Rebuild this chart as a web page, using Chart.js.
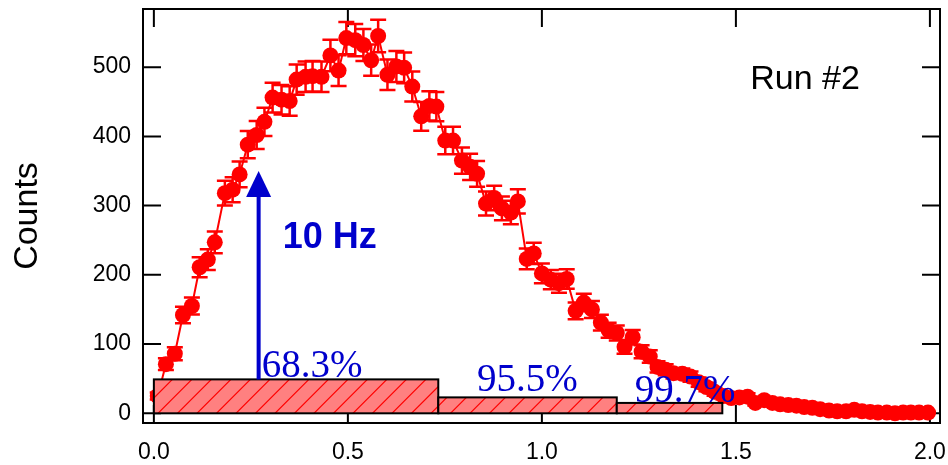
<!DOCTYPE html>
<html>
<head>
<meta charset="utf-8">
<script src="https://cdn.jsdelivr.net/npm/chart.js@4.4.1/dist/chart.umd.min.js"></script>
<style>
  html, body { margin: 0; padding: 0; background: #fff; }
  #wrap { width: 948px; height: 465px; position: relative; }
</style>
</head>
<body>
<div id="wrap"><canvas id="c" width="948" height="465"></canvas></div>
<script>
// Histogram bins (bin position) and measured counts
const xValues = [
  0.010, 0.031, 0.054, 0.075, 0.098, 0.118, 0.139, 0.157, 0.183, 0.203,
  0.221, 0.242, 0.265, 0.285, 0.306, 0.329, 0.350, 0.368, 0.391, 0.409,
  0.432, 0.455, 0.476, 0.496, 0.519, 0.540, 0.560, 0.578, 0.602, 0.625,
  0.645, 0.666, 0.689, 0.710, 0.728, 0.751, 0.771, 0.794, 0.815, 0.833,
  0.856, 0.877, 0.897, 0.920, 0.938, 0.961, 0.979, 1.000, 1.023, 1.044,
  1.064, 1.087, 1.108, 1.129, 1.152, 1.172, 1.193, 1.213, 1.234, 1.257,
  1.278, 1.298, 1.319, 1.339, 1.362, 1.383, 1.404, 1.424, 1.445, 1.468,
  1.488, 1.509, 1.530, 1.550, 1.573, 1.594, 1.614, 1.635, 1.656, 1.676,
  1.697, 1.717, 1.740, 1.761, 1.784, 1.805, 1.825, 1.846, 1.866, 1.889,
  1.910, 1.931, 1.951, 1.972, 1.995
];
const counts = [
  25, 71, 86, 142, 155, 211, 222, 247, 318, 323,
  345, 388, 402, 421, 456, 453, 451, 482, 486, 487,
  486, 517, 495, 542, 539, 532, 510, 545, 489, 501,
  499, 472, 429, 444, 443, 394, 394, 365, 356, 346,
  303, 311, 296, 290, 306, 223, 231, 202, 193, 188,
  194, 148, 160, 150, 131, 120, 116, 96, 110, 89,
  82, 67, 63, 58, 57, 53, 45, 38, 31, 25,
  22, 23, 24, 15, 19, 15, 13, 12, 11, 9,
  8, 6, 4, 3, 3, 5, 3, 2, 1, 1,
  0, 1, 1, 1, 1
];

const xTicks = [0.0, 0.5, 1.0, 1.5, 2.0];
const yTicks = [0, 100, 200, 300, 400, 500];

// Confidence bands drawn along the baseline
const bandStart  = [0.000, 0.733, 1.193];
const bandEnd    = [0.733, 1.193, 1.465];
const bandHeight = [49, 23, 15];
const bandLabels = ['68.3%', '95.5%', '99.7%'];

const runLabel  = 'Run #2';
const rateLabel = '10 Hz';
const yTitle    = 'Counts';
const arrowX    = 0.27;
const arrowTip  = 350;

const SANS  = '"Liberation Sans", Arial, Helvetica, sans-serif';
const SERIF = '"Liberation Serif", "Times New Roman", Times, serif';
const RED   = '#ff0000';
const BLUE  = '#0000cc';

// Boxed frame with inward ticks on all four sides
const framePlugin = {
  id: 'frame',
  beforeDatasetsDraw(chart) {
    const { ctx, chartArea: a, scales: { x, y } } = chart;
    const T = 18;
    ctx.save();
    ctx.strokeStyle = '#000';
    ctx.lineWidth = 2;
    ctx.beginPath();
    xTicks.forEach(v => {
      const px = x.getPixelForValue(v);
      ctx.moveTo(px, a.bottom); ctx.lineTo(px, a.bottom - T);
      ctx.moveTo(px, a.top);    ctx.lineTo(px, a.top + T);
    });
    yTicks.forEach(v => {
      const py = y.getPixelForValue(v);
      ctx.moveTo(a.left, py);  ctx.lineTo(a.left + T, py);
      ctx.moveTo(a.right, py); ctx.lineTo(a.right - T, py);
    });
    ctx.stroke();
    ctx.strokeRect(a.left, a.top, a.right - a.left, a.bottom - a.top);

    // Axis title
    ctx.fillStyle = '#000';
    ctx.font = '34px ' + SANS;
    ctx.textAlign = 'center';
    ctx.textBaseline = 'middle';
    ctx.translate(28, (a.top + a.bottom) / 2);
    ctx.rotate(-Math.PI / 2);
    ctx.fillText(yTitle, 0, 0);
    ctx.restore();
  }
};

// Poisson (sqrt N) error bars with caps
const errorBarPlugin = {
  id: 'errorBars',
  beforeDatasetsDraw(chart) {
    const { ctx, scales: { x, y } } = chart;
    ctx.save();
    ctx.strokeStyle = RED;
    ctx.lineWidth = 2.5;
    ctx.beginPath();
    xValues.forEach((xv, i) => {
      const err = Math.sqrt(counts[i]);
      const px = x.getPixelForValue(xv);
      const top = y.getPixelForValue(counts[i] + err);
      const bot = y.getPixelForValue(counts[i] - err);
      ctx.moveTo(px, top); ctx.lineTo(px, bot);
      ctx.moveTo(px - 8, top); ctx.lineTo(px + 8, top);
      ctx.moveTo(px - 8, bot); ctx.lineTo(px + 8, bot);
    });
    ctx.stroke();
    ctx.restore();
  }
};

// Hatched bands, arrow and text annotations
const annotationPlugin = {
  id: 'annotations',
  afterDatasetsDraw(chart) {
    const { ctx, scales: { x, y } } = chart;
    const y0 = y.getPixelForValue(0);
    ctx.save();
    bandStart.forEach((s, i) => {
      const l = x.getPixelForValue(s);
      const r = x.getPixelForValue(bandEnd[i]);
      const t = y.getPixelForValue(bandHeight[i]);
      const h = y0 - t;
      ctx.fillStyle = '#ff8080';
      ctx.fillRect(l, t, r - l, h);
      ctx.save();
      ctx.beginPath();
      ctx.rect(l, t, r - l, h);
      ctx.clip();
      ctx.strokeStyle = RED;
      ctx.lineWidth = 1.2;
      ctx.beginPath();
      const sp = 19.5;
      for (let k = Math.floor((l - h) / sp) * sp; k < r + sp; k += sp) {
        ctx.moveTo(k, y0 + 2);
        ctx.lineTo(k + h + 2, t);
      }
      ctx.stroke();
      ctx.restore();
      ctx.strokeStyle = '#000';
      ctx.lineWidth = 2;
      ctx.strokeRect(l, t, r - l, h);
    });

    // Arrow marking the rate
    const ax = x.getPixelForValue(arrowX);
    const aBase = y.getPixelForValue(bandHeight[0]);
    const aTip = y.getPixelForValue(arrowTip);
    ctx.strokeStyle = BLUE;
    ctx.fillStyle = BLUE;
    ctx.lineWidth = 4;
    ctx.beginPath();
    ctx.moveTo(ax, aBase);
    ctx.lineTo(ax, aTip + 24);
    ctx.stroke();
    ctx.beginPath();
    ctx.moveTo(ax, aTip);
    ctx.lineTo(ax - 12.5, aTip + 26);
    ctx.lineTo(ax + 12.5, aTip + 26);
    ctx.closePath();
    ctx.fill();

    ctx.textAlign = 'left';
    ctx.textBaseline = 'alphabetic';
    ctx.font = 'bold 36px ' + SANS;
    ctx.fillText(rateLabel, x.getPixelForValue(0.332), y.getPixelForValue(239));

    ctx.font = '39px ' + SERIF;
    const labelPos = [[0.278, 52], [0.833, 32], [1.239, 16]];
    bandLabels.forEach((txt, i) => {
      ctx.fillText(txt, x.getPixelForValue(labelPos[i][0]), y.getPixelForValue(labelPos[i][1]));
    });

    ctx.fillStyle = '#000';
    ctx.font = '34px ' + SANS;
    ctx.fillText(runLabel, x.getPixelForValue(1.537), y.getPixelForValue(469));
    ctx.restore();
  }
};

new Chart(document.getElementById('c'), {
  type: 'scatter',
  data: {
    datasets: [{
      data: xValues.map((v, i) => ({ x: v, y: counts[i] })),
      showLine: true,
      borderColor: RED,
      borderWidth: 2,
      backgroundColor: RED,
      pointRadius: 8,
      pointBorderWidth: 0,
      pointHoverRadius: 8,
      tension: 0
    }]
  },
  options: {
    responsive: false,
    devicePixelRatio: 1,
    animation: false,
    events: [],
    layout: { padding: { top: 9, right: 6, left: 0, bottom: 0 } },
    plugins: { legend: { display: false }, tooltip: { enabled: false } },
    scales: {
      x: {
        type: 'linear',
        min: -0.028,
        max: 2.026,
        afterFit(s) {
          s.height = 42;
          s.paddingLeft = 0; s.paddingRight = 0;
        },
        afterBuildTicks(s) { s.ticks = xTicks.map(v => ({ value: v })); },
        grid: { display: false, drawTicks: false },
        border: { display: false },
        ticks: {
          padding: 16,
          color: '#000',
          font: { family: SANS, size: 23 },
          maxRotation: 0,
          autoSkip: false,
          callback: v => Number(v).toFixed(1)
        }
      },
      y: {
        type: 'linear',
        min: -14,
        max: 584,
        afterFit(s) {
          s.width = 143;
          s.paddingTop = 0; s.paddingBottom = 0;
        },
        afterBuildTicks(s) { s.ticks = yTicks.map(v => ({ value: v })); },
        grid: { display: false, drawTicks: false },
        border: { display: false },
        ticks: {
          padding: 12,
          color: '#000',
          font: { family: SANS, size: 23 },
          autoSkip: false,
          callback: v => String(v)
        }
      }
    }
  },
  plugins: [framePlugin, errorBarPlugin, annotationPlugin]
});
</script>
</body>
</html>
